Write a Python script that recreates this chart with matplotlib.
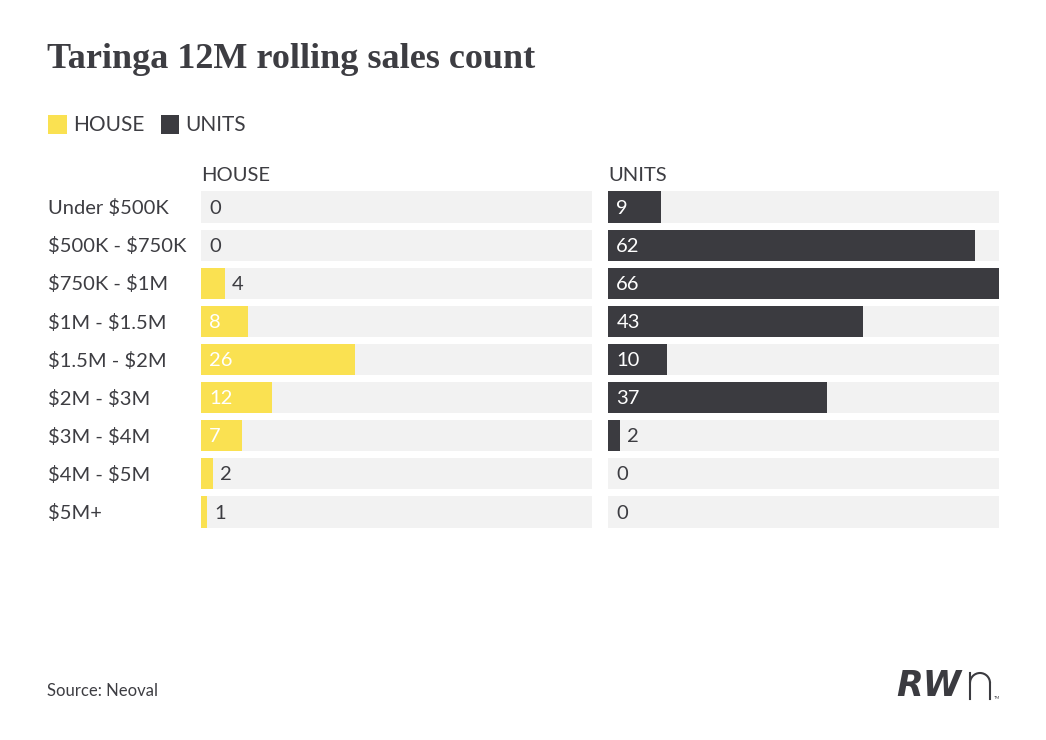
import numpy as np
from matplotlib import pyplot as plt
from matplotlib.lines import Line2D
from matplotlib.patches import Arc

categories = ['Under $500K', '$500K - $750K', '$750K - $1M', '$1M - $1.5M',
              '$1.5M - $2M', '$2M - $3M', '$3M - $4M', '$4M - $5M', '$5M+']
house = [0, 0, 4, 8, 26, 12, 7, 2, 1]
units = [9, 62, 66, 43, 10, 37, 2, 0, 0]

yellow = '#fae151'
dark = '#3b3b40'
txt = '#3d3d42'
track = '#f2f2f2'
xmax = 66
fs = 14.5

plt.rcParams['font.family'] = ['Lato', 'DejaVu Sans']

W, H = 1046, 740
fig = plt.figure(figsize=(W / 100, H / 100), dpi=100)
fig.patch.set_facecolor('white')

def fx(px):
    return px / W

def fy(py):
    return 1 - py / H

def panel(left, vals, color, name):
    ax = fig.add_axes([left, 0.2824, 0.3738, 0.4636])
    y = np.arange(len(vals))
    ax.barh(y, [xmax] * len(vals), height=0.82, color=track, lw=0)
    ax.barh(y, vals, height=0.82, color=color, lw=0)
    for yi, v in zip(y, vals):
        if v >= 5:
            ax.text(1.4, yi + 0.03, str(v), color='white', va='center', ha='left', fontsize=fs)
        elif v == 0:
            ax.text(1.4, yi + 0.03, str(v), color=txt, va='center', ha='left', fontsize=fs)
        else:
            ax.text(v + 1.2, yi + 0.03, str(v), color=txt, va='center', ha='left', fontsize=fs)
    ax.set_xlim(0, xmax)
    ax.set_ylim(len(vals) - 0.5, -0.5)
    ax.axis('off')
    ax.text(0, -0.6, name, color=txt, fontsize=fs, ha='left', va='bottom')
    return ax

ax1 = panel(fx(201), house, yellow, 'HOUSE')
ax2 = panel(fx(608), units, dark, 'UNITS')

for i, c in enumerate(categories):
    ax1.text(-153 / 5.92, i + 0.03, c, color=txt, fontsize=fs, ha='left', va='center',
             parse_math=False)

fig.text(fx(47), fy(60), 'Taringa 12M rolling sales count', fontsize=26,
         fontweight='bold', family='Liberation Serif', color=txt, va='center')

# legend
fig.patches.append(plt.Rectangle((fx(48), fy(134)), 19 / W, 19 / H,
                                 transform=fig.transFigure, color=yellow, lw=0))
fig.text(fx(73), fy(125), 'HOUSE', fontsize=15, color=txt, va='center')
fig.patches.append(plt.Rectangle((fx(161), fy(134)), 18 / W, 19 / H,
                                 transform=fig.transFigure, color=dark, lw=0))
fig.text(fx(185), fy(125), 'UNITS', fontsize=15, color=txt, va='center')

fig.text(fx(47), fy(691), 'Source: Neoval', fontsize=12, color=txt, va='center')

# logo
fig.text(fx(896), fy(686), 'RW', fontsize=25, fontweight='bold',
         style='italic', color=dark, va='center', family='DejaVu Sans')
fig.lines.append(Line2D([fx(970), fx(970)], [fy(699), fy(673)],
                        transform=fig.transFigure, color=dark, lw=1.5))
fig.lines.append(Line2D([fx(990), fx(990)], [fy(699), fy(683)],
                        transform=fig.transFigure, color=dark, lw=1.5))
fig.patches.append(Arc((fx(980), fy(683)), 20 / W, 20 / H, theta1=0, theta2=180,
                       transform=fig.transFigure, color=dark, lw=1.5))
fig.text(fx(994), fy(698), 'TM', fontsize=3, color=dark, va='center')

plt.savefig('out.png', dpi=100)
